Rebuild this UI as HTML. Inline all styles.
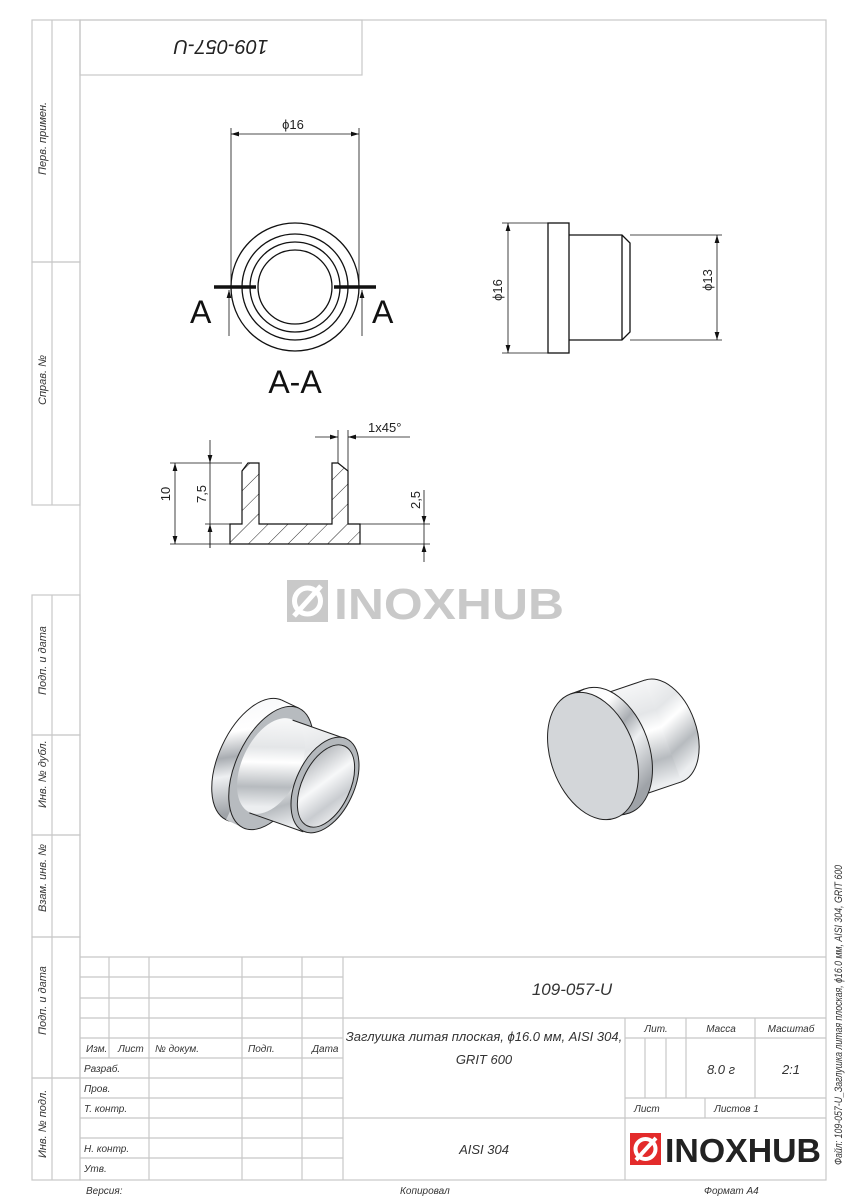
<!DOCTYPE html>
<html><head><meta charset="utf-8"><style>
html,body{margin:0;padding:0;background:#fff}
svg{display:block}
text{font-family:"Liberation Sans",sans-serif}
.t{font-style:italic;font-size:11px;fill:#333}
.g{stroke:#c8c8c8;stroke-width:1.2;fill:none}
.k{stroke:#111;stroke-width:1.3;fill:none}
.d{stroke:#111;stroke-width:.8;fill:none}
</style></head><body>
<svg width="848" height="1200" viewBox="0 0 848 1200" xmlns="http://www.w3.org/2000/svg">
<defs>
<marker id="ar" viewBox="0 0 10 10" refX="10" refY="5" markerWidth="8" markerHeight="8" orient="auto-start-reverse" markerUnits="userSpaceOnUse"><path d="M0,2 L10,5 L0,8 z" fill="#111"/></marker>
<linearGradient id="met" x1="0" y1="0" x2="0.35" y2="1">
<stop offset="0" stop-color="#f4f5f7"/><stop offset=".35" stop-color="#ffffff"/><stop offset=".55" stop-color="#a9adb2"/><stop offset=".7" stop-color="#eef0f2"/><stop offset="1" stop-color="#9fa3a8"/></linearGradient>
<linearGradient id="met2" x1="0" y1="0" x2="0.25" y2="1">
<stop offset="0" stop-color="#ffffff"/><stop offset=".4" stop-color="#e4e6e8"/><stop offset=".55" stop-color="#ffffff"/><stop offset=".8" stop-color="#b7bbbf"/><stop offset="1" stop-color="#eceef0"/></linearGradient>
<linearGradient id="bore" x1="0" y1="0" x2="1" y2="1">
<stop offset="0" stop-color="#9ea2a7"/><stop offset=".45" stop-color="#f7f8f9"/><stop offset=".7" stop-color="#c9ccd0"/><stop offset="1" stop-color="#ffffff"/></linearGradient>
<pattern id="hat" width="14" height="14" patternUnits="userSpaceOnUse" patternTransform="rotate(45)"><line x1="0" y1="0" x2="0" y2="14" stroke="#111" stroke-width=".9"/></pattern>
</defs>

<!-- frame -->
<rect x="80" y="20" width="746" height="1160" class="g"/>
<rect x="80" y="20" width="282" height="55" class="g"/>
<text x="221" y="56" font-size="20" font-style="italic" fill="#222" text-anchor="middle" transform="rotate(180 221 48)">109-057-U</text>

<!-- left strip -->
<g class="g">
<rect x="32" y="20" width="48" height="242"/><line x1="52" y1="20" x2="52" y2="262"/>
<rect x="32" y="262" width="48" height="243"/><line x1="52" y1="262" x2="52" y2="505"/>
<rect x="32" y="595" width="48" height="140"/><line x1="52" y1="595" x2="52" y2="1180"/>
<rect x="32" y="735" width="48" height="100"/>
<rect x="32" y="835" width="48" height="102"/>
<rect x="32" y="937" width="48" height="141"/>
<rect x="32" y="1078" width="48" height="102"/>
</g>
<g class="t" font-size="10">
<text transform="translate(46 175) rotate(-90)">Перв. примен.</text>
<text transform="translate(46 405) rotate(-90)">Справ. №</text>
<text transform="translate(46 695) rotate(-90)">Подп. и дата</text>
<text transform="translate(46 808) rotate(-90)">Инв. № дубл.</text>
<text transform="translate(46 912) rotate(-90)">Взам. инв. №</text>
<text transform="translate(46 1035) rotate(-90)">Подп. и дата</text>
<text transform="translate(46 1158) rotate(-90)">Инв. № подл.</text>
</g>
<text class="t" font-size="10" transform="translate(842 1165) rotate(-90)" textLength="300" lengthAdjust="spacingAndGlyphs">Файл: 109-057-U_Заглушка литая плоская, ϕ16.0 мм, AISI 304, GRIT 600</text>

<!-- title block -->
<g class="g">
<line x1="80" y1="957" x2="826" y2="957"/>
<line x1="80" y1="977" x2="343" y2="977"/>
<line x1="80" y1="998" x2="343" y2="998"/>
<line x1="80" y1="1018" x2="826" y2="1018"/>
<line x1="80" y1="1038" x2="343" y2="1038"/>
<line x1="625" y1="1038" x2="826" y2="1038"/>
<line x1="80" y1="1058" x2="343" y2="1058"/>
<line x1="80" y1="1078" x2="343" y2="1078"/>
<line x1="80" y1="1098" x2="343" y2="1098"/>
<line x1="625" y1="1098" x2="826" y2="1098"/>
<line x1="80" y1="1118" x2="826" y2="1118"/>
<line x1="80" y1="1138" x2="343" y2="1138"/>
<line x1="80" y1="1158" x2="343" y2="1158"/>
<line x1="109" y1="957" x2="109" y2="1058"/>
<line x1="149" y1="957" x2="149" y2="1180"/>
<line x1="242" y1="957" x2="242" y2="1180"/>
<line x1="302" y1="957" x2="302" y2="1180"/>
<line x1="343" y1="957" x2="343" y2="1180"/>
<line x1="625" y1="1018" x2="625" y2="1180"/>
<line x1="645" y1="1038" x2="645" y2="1098"/>
<line x1="666" y1="1038" x2="666" y2="1098"/>
<line x1="686" y1="1018" x2="686" y2="1098"/>
<line x1="755" y1="1018" x2="755" y2="1098"/>
<line x1="705" y1="1098" x2="705" y2="1118"/>
</g>
<g class="t">
<text x="86" y="1052" font-size="10">Изм.</text>
<text x="118" y="1052" font-size="10">Лист</text>
<text x="155" y="1052" font-size="10">№ докум.</text>
<text x="248" y="1052" font-size="10">Подп.</text>
<text x="312" y="1052" font-size="10">Дата</text>
<text x="84" y="1072" font-size="10">Разраб.</text>
<text x="84" y="1092" font-size="10">Пров.</text>
<text x="84" y="1112" font-size="10">Т. контр.</text>
<text x="84" y="1152" font-size="10">Н. контр.</text>
<text x="84" y="1172" font-size="10">Утв.</text>
<text x="86" y="1194" font-size="10">Версия:</text>
<text x="400" y="1194" font-size="10">Копировал</text>
<text x="704" y="1194" font-size="10">Формат A4</text>
<text x="572" y="995" font-size="17" text-anchor="middle">109-057-U</text>
<text x="484" y="1041" font-size="13" text-anchor="middle">Заглушка литая плоская, ϕ16.0 мм, AISI 304,</text>
<text x="484" y="1064" font-size="13" text-anchor="middle">GRIT 600</text>
<text x="484" y="1154" font-size="13" text-anchor="middle">AISI 304</text>
<text x="656" y="1032" font-size="10" text-anchor="middle">Лит.</text>
<text x="721" y="1032" font-size="10" text-anchor="middle">Масса</text>
<text x="791" y="1032" font-size="10" text-anchor="middle">Масштаб</text>
<text x="721" y="1074" font-size="13" text-anchor="middle">8.0 г</text>
<text x="791" y="1074" font-size="13" text-anchor="middle">2:1</text>
<text x="634" y="1112" font-size="10">Лист</text>
<text x="714" y="1112" font-size="10">Листов 1</text>
</g>
<!-- logo -->
<rect x="630" y="1133" width="31" height="32" fill="#e32b2b"/>
<circle cx="645.5" cy="1149" r="10" fill="none" stroke="#fff" stroke-width="4"/>
<line x1="636" y1="1160" x2="656" y2="1138" stroke="#fff" stroke-width="4"/>
<text x="665" y="1162" font-size="33" font-weight="bold" fill="#222" textLength="156" lengthAdjust="spacingAndGlyphs">INOXHUB</text>

<!-- watermark -->
<rect x="287" y="580" width="41" height="42" fill="#c9c9c9"/>
<circle cx="307.5" cy="601" r="13" fill="none" stroke="#fff" stroke-width="5"/>
<line x1="294" y1="616" x2="321" y2="586" stroke="#fff" stroke-width="5"/>
<text x="334" y="619" font-size="44" font-weight="bold" fill="#c9c9c9" textLength="230" lengthAdjust="spacingAndGlyphs">INOXHUB</text>

<!-- front circle view -->
<g class="k" stroke-width="1">
<circle cx="295" cy="287" r="64"/><circle cx="295" cy="287" r="53"/><circle cx="295" cy="287" r="45"/><circle cx="295" cy="287" r="37"/>
</g>
<line x1="231" y1="128" x2="231" y2="287" class="d"/><line x1="359" y1="128" x2="359" y2="287" class="d"/>
<line x1="231" y1="134" x2="359" y2="134" class="d" marker-start="url(#ar)" marker-end="url(#ar)"/>
<text x="293" y="129" font-size="13" text-anchor="middle" fill="#222">ϕ16</text>
<line x1="214" y1="287" x2="256" y2="287" stroke="#111" stroke-width="3.5"/>
<line x1="334" y1="287" x2="376" y2="287" stroke="#111" stroke-width="3.5"/>
<line x1="229" y1="336" x2="229" y2="290" class="d" marker-end="url(#ar)"/>
<line x1="362" y1="336" x2="362" y2="290" class="d" marker-end="url(#ar)"/>
<text x="190" y="323" font-size="32" fill="#111">A</text>
<text x="372" y="323" font-size="32" fill="#111">A</text>
<text x="295" y="393" font-size="32" fill="#111" text-anchor="middle">A-A</text>

<!-- side view -->
<g class="k" stroke-width="1.1">
<rect x="548" y="223" width="21" height="130"/>
<path d="M569,235 L622,235 L630,243 L630,332 L622,340 L569,340"/>
<line x1="622" y1="235" x2="622" y2="340"/>
</g>
<line x1="502" y1="223" x2="548" y2="223" class="d"/><line x1="502" y1="353" x2="548" y2="353" class="d"/>
<line x1="508" y1="223" x2="508" y2="353" class="d" marker-start="url(#ar)" marker-end="url(#ar)"/>
<text transform="translate(502 290) rotate(-90)" font-size="13" text-anchor="middle" fill="#222">ϕ16</text>
<line x1="630" y1="235" x2="722" y2="235" class="d"/><line x1="630" y1="340" x2="722" y2="340" class="d"/>
<line x1="717" y1="235" x2="717" y2="340" class="d" marker-start="url(#ar)" marker-end="url(#ar)"/>
<text transform="translate(712 280) rotate(-90)" font-size="13" text-anchor="middle" fill="#222">ϕ13</text>

<!-- section view -->
<path d="M242,471 L248,463 L259,463 L259,524 L332,524 L332,463 L338,463 L348,471 L348,524 L360,524 L360,544 L230,544 L230,524 L242,524 Z" fill="url(#hat)" stroke="#111" stroke-width="1.2"/>
<line x1="170" y1="463" x2="242" y2="463" class="d"/>
<line x1="170" y1="544" x2="230" y2="544" class="d"/>
<line x1="205" y1="524" x2="242" y2="524" class="d"/>
<line x1="175" y1="463" x2="175" y2="544" class="d" marker-start="url(#ar)" marker-end="url(#ar)"/>
<text transform="translate(170 494) rotate(-90)" font-size="13" text-anchor="middle" fill="#222">10</text>
<line x1="210" y1="440" x2="210" y2="463" class="d" marker-end="url(#ar)"/>
<line x1="210" y1="463" x2="210" y2="548" class="d"/>
<line x1="210" y1="548" x2="210" y2="524" class="d" marker-end="url(#ar)"/>
<text transform="translate(206 494) rotate(-90)" font-size="13" text-anchor="middle" fill="#222">7,5</text>
<line x1="360" y1="524" x2="430" y2="524" class="d"/><line x1="360" y1="544" x2="430" y2="544" class="d"/>
<line x1="424" y1="490" x2="424" y2="524" class="d" marker-end="url(#ar)"/>
<line x1="424" y1="524" x2="424" y2="544" class="d"/>
<line x1="424" y1="562" x2="424" y2="544" class="d" marker-end="url(#ar)"/>
<text transform="translate(420 500) rotate(-90)" font-size="13" text-anchor="middle" fill="#222">2,5</text>
<line x1="338" y1="430" x2="338" y2="463" class="d"/><line x1="348" y1="430" x2="348" y2="471" class="d"/>
<line x1="315" y1="437" x2="338" y2="437" class="d" marker-end="url(#ar)"/>
<line x1="410" y1="437" x2="348" y2="437" class="d" marker-end="url(#ar)"/>
<text x="368" y="432" font-size="13" fill="#222">1x45°</text>

<!-- 3D left bushing: axis dir (.906,.423), major dir (.423,-.906) -->
<g stroke="#222" stroke-width="1">
<!-- flange back -->
<ellipse cx="254" cy="760" rx="35" ry="66" transform="rotate(25 254 760)" fill="url(#met)"/>
<!-- flange band -->
<path d="M281.9,700.2 L298.9,708.2 L243.1,827.8 L226.1,819.8 Z" fill="url(#met)" stroke="none"/>
<line x1="281.9" y1="700.2" x2="298.9" y2="708.2"/>
<!-- flange front face -->
<ellipse cx="271" cy="768" rx="35" ry="66" transform="rotate(25 271 768)" fill="#b7bbbf"/>
<!-- body band -->
<path d="M292.6,720.1 L346.6,739.1 L303.4,831.9 L249.4,812.9 Z" fill="url(#met2)" stroke="none"/>
<ellipse cx="271" cy="766" rx="29" ry="51" transform="rotate(25 271 766)" fill="url(#met2)" stroke="none"/>
<line x1="292.6" y1="720.1" x2="346.6" y2="739.1"/>
<line x1="249.4" y1="812.9" x2="303.4" y2="831.9"/>
<!-- front ring -->
<ellipse cx="325" cy="785" rx="29" ry="51" transform="rotate(25 325 785)" fill="#b4b8bc"/>
<ellipse cx="326" cy="786" rx="24" ry="44" transform="rotate(25 326 786)" fill="url(#bore)"/>
</g>

<!-- 3D right disc: axis dir (.94,-.342), major dir (-.342,-.94) -->
<g stroke="#222" stroke-width="1">
<!-- body back -->
<ellipse cx="663" cy="731" rx="33" ry="54" transform="rotate(-20 663 731)" fill="url(#met2)"/>
<path d="M588.5,699.2 L644.5,680.2 L681.5,781.8 L625.5,800.8 Z" fill="url(#met2)" stroke="none"/>
<line x1="588.5" y1="699.2" x2="644.5" y2="680.2"/>
<line x1="625.5" y1="800.8" x2="681.5" y2="781.8"/>
<!-- flange band -->
<path d="M570.4,694 L584.4,689 L629.6,813 L615.6,818 Z" fill="url(#met)" stroke="none"/>
<ellipse cx="607" cy="751" rx="42" ry="66" transform="rotate(-20 607 751)" fill="url(#met)"/>
<line x1="570.4" y1="694" x2="584.4" y2="689"/>
<!-- front face -->
<ellipse cx="593" cy="756" rx="42" ry="66" transform="rotate(-20 593 756)" fill="#d3d6d9"/>
</g>
</svg>
</body></html>
